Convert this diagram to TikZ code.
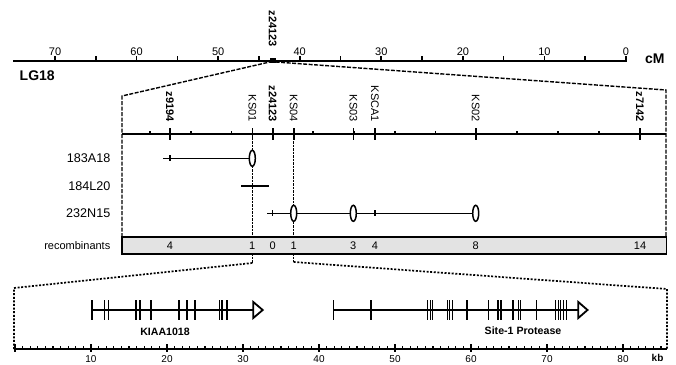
\documentclass[tikz,border=0pt]{standalone}
\usepackage{fontspec}
\setmainfont{Liberation Sans}
\usetikzlibrary{calc}

\begin{document}
\begin{tikzpicture}[x=1pt,y=-1pt,
		every node/.style={inner sep=0pt},
		lbl/.style={font=\fontsize{11}{13}\selectfont},
		rowlbl/.style={font=\fontsize{12.6}{14}\selectfont, anchor=east},
		biglbl/.style={font=\fontsize{14}{16}\selectfont\bfseries, anchor=base west},
		genelbl/.style={font=\fontsize{10.6}{12}\selectfont\bfseries},
		rowline/.style={line width=1.5pt},
		clone/.style={line width=1.5pt, fill=white},
		exon/.style={line width=1.6pt},
		zoomdash/.style={line width=1.4pt, dash pattern=on 4pt off 1.5pt},
		zoomdots/.style={line width=1.7pt, dash pattern=on 2pt off 1.6pt}]
			\useasboundingbox (0,0) rectangle (676,364);

			\coordinate (cL) at (13,61);
			\coordinate (cR) at (627,61);
			\draw[line width=2.4pt] (cL) -- (cR);
			\foreach \c in {0,5,...,70}
				\draw[line width=1.6pt] ({626-8.157*\c},61) -- ++(0,-5);
			\foreach \c in {0,10,...,70}
				\node[lbl, anchor=base] at ({626-8.157*\c},55) {\c};
			\node[biglbl] at (645,63) {cM};
			\node[biglbl] at (19.5,80) {LG18};
			\fill (269.7,57.5) rectangle (275.7,62.5);
			\coordinate (zA) at (269.7,62);
			\coordinate (zB) at (275.7,62);
			\node[lbl, font=\fontsize{11}{13}\selectfont\bfseries, rotate=-90, anchor=east] at (272.7,47) {z24123};

			\coordinate (uL) at (122,96);
			\coordinate (uR) at (666,90);
			\draw[zoomdash] (122,237) -- (uL) -- (zA);
			\draw[zoomdash] (zB) -- (uR) -- (666,237);

			\draw[line width=1.8pt] (122,134) -- (666,134);
			\foreach \i in {0,...,12}
				\draw[line width=1.5pt] ({150+40.8*\i},134) -- ++(0,-3.5);
			\foreach \n/\x/\t/\f in {z9194/170/z9194/\bfseries, ks01/252.3/KS01/\mdseries,
					z24123/272.7/z24123/\bfseries, ks04/293.7/KS04/\mdseries,
					ks03/353.3/KS03/\mdseries, ksca1/375/KSCA1/\mdseries,
					ks02/475.7/KS02/\mdseries, z7142/640/z7142/\bfseries} {
				\coordinate (\n) at (\x,134);
				\draw[line width=1.6pt] (\x,128) -- (\x,140);
				\node[font=\fontsize{11}{13}\selectfont\f, rotate=-90, anchor=east] at ($(\n)+(0,-12)$) {\t};
			}

			\draw[line width=1.1pt, dash pattern=on 2.5pt off 1pt] (ks01) -- ++(0,129) coordinate (ks01b);
			\draw[line width=1.1pt, dash pattern=on 2.5pt off 1pt] (ks04) -- ++(0,128) coordinate (ks04b);

			\coordinate (r1) at (0,158.3);
			\coordinate (r2) at (0,186);
			\coordinate (r3) at (0,213.3);
			\node[rowlbl] at (110.5,158.3) {183A18};
			\node[rowlbl] at (110.5,186) {184L20};
			\node[rowlbl] at (110.5,213.3) {232N15};

			\draw[rowline] (163,158.3) -- (ks01 |- r1);
			\draw[rowline] ($(z9194 |- r1)+(0,-3)$) -- ++(0,6);
			\draw[clone] (ks01 |- r1) ellipse (3 and 8);

			\draw[line width=2pt] (241,186) -- (269,186);

			\draw[rowline] (267,213.3) -- (ks02 |- r3);
			\draw[rowline] ($(z24123 |- r3)+(0,-3)$) -- ++(0,6);
			\draw[rowline] ($(ksca1 |- r3)+(0,-3)$) -- ++(0,6);
			\draw[clone] (ks04 |- r3) ellipse (3 and 8);
			\draw[clone] (ks03 |- r3) ellipse (3 and 8);
			\draw[clone] (ks02 |- r3) ellipse (3 and 8);

			\draw[line width=1.8pt, fill=gray!22] (122,237.3) rectangle (666.5,254);
			\node[lbl, anchor=east] at (110.5,245.7) {recombinants};
			\foreach \n/\r in {z9194/4, ks01/1, z24123/0, ks04/1, ks03/3, ksca1/4, ks02/8, z7142/14}
				\node[lbl] at ($(\n)+(0,111.7)$) {\r};

			\draw[zoomdots] (ks01b) -- (14,288) -- (14,349);
			\draw[zoomdots] (ks04b) -- (667,289) -- (667,349);

			\draw[line width=1.8pt] (14,349) -- (667,349);
			\foreach \k in {0,...,85}
				\draw[line width=1.1pt] ({15+7.6*\k},349) -- ++(0,-3);
			\foreach \k in {0,10,...,80}
				\draw[line width=1.5pt] ({15+7.6*\k},344) -- ++(0,8);
			\foreach \k in {10,20,...,80}
				\node[font=\fontsize{10}{12}\selectfont, anchor=north] at ({15+7.6*\k},355) {\k};
			\node[font=\fontsize{10}{12}\selectfont\bfseries, anchor=north west] at (651.5,354.5) {kb};

			\coordinate (kS) at (91.7,310);
			\coordinate (kE) at (253.3,310);
			\draw[line width=1.8pt] (kS) -- (kE);
			\foreach \x in {91.7,104.3,108.3,136,140,150.7,179,186.7,195,219.3,221.7,226.7}
				\draw[exon] (\x,300) -- (\x,320);
			\draw[line width=1.8pt, fill=white] ($(kE)+(0,-8)$) -- ($(kE)+(9.4,0)$) -- ($(kE)+(0,8)$) -- cycle;
			\node[genelbl] at (165,332.2) {KIAA1018};

			\coordinate (sS) at (333.3,310);
			\coordinate (sE) at (578.3,310);
			\draw[line width=1.8pt] (sS) -- (sE);
			\foreach \x in {333.3,371,466.7,488.3,498,500.7,513,518.3,520.3,536.5,566.5}
				\draw[exon] (\x,300) -- (\x,320);
			\foreach \x in {427.8,430,432.2,447.5,449.7,452,555.5,558,560.5,563.5}
				\draw[line width=1pt] (\x,300) -- (\x,320);
			\draw[line width=1.8pt, fill=white] ($(sE)+(0,-8)$) -- ($(sE)+(9.2,0)$) -- ($(sE)+(0,8)$) -- cycle;
			\node[genelbl] at (523,331) {Site-1 Protease};
		\end{tikzpicture}
\end{document}
